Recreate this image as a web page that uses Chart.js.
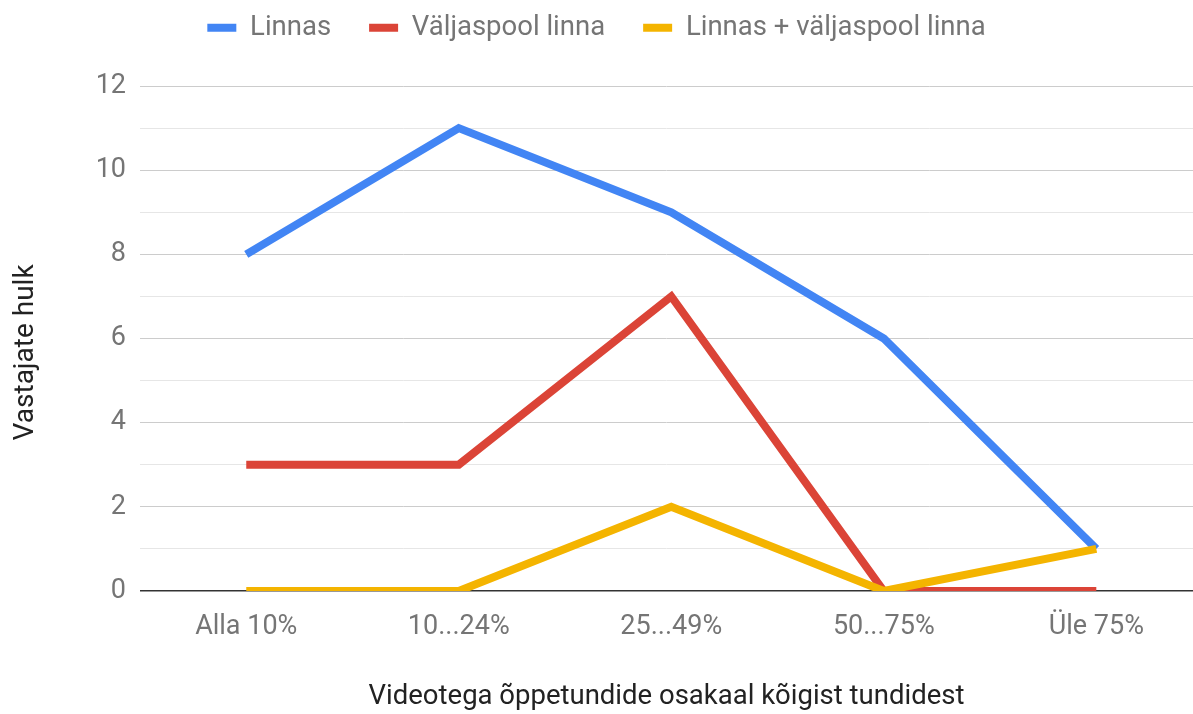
<!DOCTYPE html>
<html>
<head>
<meta charset="utf-8">
<script src="https://cdn.jsdelivr.net/npm/chart.js@4/dist/chart.umd.min.js"></script>
<style>
    html, body { margin: 0; padding: 0; background: #ffffff; }
    #wrap { width: 1193px; height: 714px; position: relative; }
</style>
</head>
<body>
<div id="wrap"><canvas id="chart"></canvas></div>
<script>
// categories on the x axis
const categories = ['Alla 10%', '10...24%', '25...49%', '50...75%', 'Üle 75%'];

// series values (number of respondents)
const linnas = [8, 11, 9, 6, 1];
const valjaspool = [3, 3, 7, 0, 0];
const linnasJaValjaspool = [0, 0, 2, 0, 1];

const seriesNames = ['Linnas', 'Väljaspool linna', 'Linnas + väljaspool linna'];
const seriesColors = ['#4285F4', '#DB4437', '#F4B400'];

const yLabelEvery = 2;
const FONT = 'Roboto';

function toPoints(values) {
    return values.map((v, i) => ({ x: i, y: v }));
}

const allSeries = [linnas, valjaspool, linnasJaValjaspool];

// legend sits in a taller box so the plot starts lower
const legendBoxHeight = {
    id: 'legendBoxHeight',
    afterInit: function (chart) {
        const lg = chart.legend;
        if (!lg) return;
        const fit = lg.fit;
        lg.fit = function () {
            fit.call(this);
            this.height = 110;
        };
    }
};

const ctx = document.getElementById('chart').getContext('2d');

new Chart(ctx, {
    type: 'line',
    plugins: [legendBoxHeight],
    data: {
        datasets: allSeries.map((values, i) => ({
            label: seriesNames[i],
            data: toPoints(values),
            borderColor: seriesColors[i],
            backgroundColor: seriesColors[i],
            borderWidth: 8,
            pointRadius: 0,
            pointHoverRadius: 0,
            tension: 0,
            clip: 0,
            order: allSeries.length - i
        }))
    },
    options: {
        responsive: true,
        maintainAspectRatio: false,
        animation: false,
        layout: { padding: { top: -24, left: 0, right: 0, bottom: 0 } },
        plugins: {
            tooltip: { enabled: false },
            legend: {
                position: 'top',
                align: 'center',
                labels: {
                    boxWidth: 29,
                    boxHeight: 8,
                    padding: 38,
                    color: '#757575',
                    font: { family: FONT, size: 27.5 },
                    sort: (a, b) => a.datasetIndex - b.datasetIndex,
                    generateLabels: function (chart) {
                        const items = Chart.defaults.plugins.legend.labels.generateLabels(chart);
                        items.forEach(it => { it.lineWidth = 0; it.strokeStyle = it.fillStyle; });
                        return items;
                    }
                }
            }
        },
        scales: {
            x: {
                type: 'linear',
                min: -0.5,
                max: 4.455,
                border: { display: false },
                grid: { display: false, drawTicks: false },
                afterBuildTicks: function (scale) {
                    scale.ticks = categories.map((c, i) => ({ value: i }));
                },
                afterFit: function (scale) { scale.height = 123; },
                ticks: {
                    autoSkip: false,
                    maxRotation: 0,
                    padding: 20,
                    color: '#757575',
                    font: { family: FONT, size: 27 },
                    callback: v => categories[v] !== undefined ? categories[v] : ''
                },
                title: {
                    display: true,
                    text: 'Videotega õppetundide osakaal kõigist tundidest',
                    color: '#222222',
                    font: { family: FONT, size: 27.5 },
                    padding: { top: 32, bottom: 0 }
                }
            },
            y: {
                min: 0,
                max: 12,
                border: { display: false },
                afterFit: function (scale) { scale.width = 140; },
                grid: {
                    drawTicks: false,
                    lineWidth: c => c.tick && c.tick.value === 0 ? 1.5 : 1,
                    color: function (c) {
                        if (!c.tick) return '#cccccc';
                        if (c.tick.value === 0) return '#333333';
                        return c.tick.value % yLabelEvery === 0 ? '#cccccc' : '#e6e6e6';
                    }
                },
                ticks: {
                    stepSize: 1,
                    autoSkip: false,
                    padding: 14,
                    color: '#757575',
                    font: { family: FONT, size: 27 },
                    callback: v => v % yLabelEvery === 0 ? v : ''
                },
                title: {
                    display: true,
                    text: 'Vastajate hulk    ',
                    color: '#222222',
                    font: { family: FONT, size: 28 },
                    padding: { top: 9, bottom: 0 }
                }
            }
        }
    }
});
</script>
</body>
</html>
